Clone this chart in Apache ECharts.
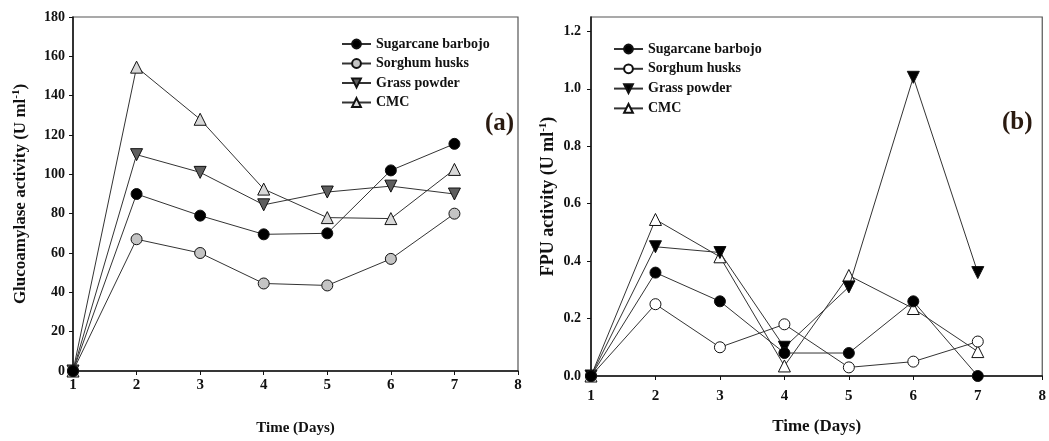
<!DOCTYPE html>
<html>
<head>
<meta charset="utf-8">
<script src="https://cdn.jsdelivr.net/npm/echarts@6/dist/echarts.min.js"></script>
<style>
html,body{margin:0;padding:0;background:#fff;}
#c{width:1049px;height:441px;}
</style>
</head>
<body>
<div id="c"></div>
<script>
var days = [1, 2, 3, 4, 5, 6, 7];
var seriesNames = ['Sugarcane barbojo', 'Sorghum husks', 'Grass powder', 'CMC'];
// Panel (a): Glucoamylase activity (U ml-1)
var gluSugarcane = [0, 90, 79, 69.5, 70, 102, 115.5];
var gluSorghum   = [0, 67, 60, 44.5, 43.5, 57, 80];
var gluGrass     = [0, 110, 101, 84.5, 91, 94, 90];
var gluCMC       = [0, 154.5, 128, 92.5, 78, 77.5, 102.5];
// Panel (b): FPU activity (U ml-1)
var fpuSugarcane = [0, 0.36, 0.26, 0.08, 0.08, 0.26, 0.0];
var fpuSorghum   = [0, 0.25, 0.10, 0.18, 0.03, 0.05, 0.12];
var fpuGrass     = [0, 0.45, 0.43, 0.10, 0.31, 1.04, 0.36];
var fpuCMC       = [0, 0.545, 0.415, 0.035, 0.35, 0.235, 0.085];
var xTicks = [1, 2, 3, 4, 5, 6, 7, 8];

function pairs(vals) { return days.map(function (d, i) { return [d, vals[i]]; }); }

var FONT = '"Liberation Serif", "Times New Roman", serif';
var lineCol = '#333';

function mkSeries(name, vals, gi, symbol, fill, rotate, z) {
  return {
    type: 'line', name: name, xAxisIndex: gi, yAxisIndex: gi,
    data: pairs(vals), symbol: symbol, symbolSize: symbol === 'circle' ? 11 : 12,
    symbolRotate: rotate || 0, showAllSymbol: true,
    lineStyle: { color: lineCol, width: 1 },
    itemStyle: { color: fill, borderColor: '#111', borderWidth: 1 },
    z: z || 2, animation: false
  };
}

var rName = ['Sugarcane barbojo\u200b', 'Sorghum husks\u200b', 'Grass powder\u200b', 'CMC\u200b'];

function xAxis(gi, gap, fs, margin) {
  return {
    gridIndex: gi, type: 'value', min: xTicks[0], max: xTicks[xTicks.length - 1], interval: 1,
    name: 'Time (Days)', nameLocation: 'middle', nameGap: gap,
    nameTextStyle: { fontFamily: FONT, fontWeight: 'bold', fontSize: fs, color: '#111' },
    axisLine: { onZero: false, lineStyle: { color: '#111', width: 1.5 } },
    axisTick: { length: 4, lineStyle: { color: '#111' } },
    axisLabel: { fontFamily: FONT, fontWeight: 'bold', fontSize: 15, color: '#111', margin: margin },
    splitLine: { show: false }
  };
}

function richName(fs) {
  return { rich: {
    t: { fontFamily: FONT, fontWeight: 'bold', fontSize: fs, color: '#111' },
    s: { fontFamily: FONT, fontWeight: 'bold', fontSize: 11, color: '#111', verticalAlign: 'top', padding: [0, 0, 9, 0] }
  } };
}

var option = {
  backgroundColor: '#fff',
  animation: false,
  grid: [
    { left: 73, right: 531, top: 17, bottom: 67, show: true, borderColor: '#555', borderWidth: 1.2 },
    { left: 591, right: 2, top: 17, bottom: 65, show: true, borderColor: '#555', borderWidth: 1.2 }
  ],
  xAxis: [xAxis(0, 50, 15, 7), xAxis(1, 42, 17, 13)],
  yAxis: [
    {
      gridIndex: 0, type: 'value', min: 0, max: 180, interval: 20,
      name: '{t|Glucoamylase activity (U ml}{s|-1}{t|)}', nameLocation: 'middle', nameGap: 42,
      nameTextStyle: richName(17),
      axisLine: { lineStyle: { color: '#111', width: 1.5 } },
      axisTick: { length: 4, lineStyle: { color: '#111' } },
      axisLabel: { fontFamily: FONT, fontWeight: 'bold', fontSize: 14, color: '#111', margin: 8 },
      splitLine: { show: false }
    },
    {
      gridIndex: 1, type: 'value', min: 0, max: 1.25, interval: 0.2,
      name: '{t|FPU activity (U ml}{s|-1}{t|)}', nameLocation: 'middle', nameGap: 33,
      nameTextStyle: richName(18),
      axisLine: { lineStyle: { color: '#111', width: 1.5 } },
      axisTick: { length: 4, lineStyle: { color: '#111' } },
      axisLabel: { fontFamily: FONT, fontWeight: 'bold', fontSize: 14, color: '#111', margin: 10, showMaxLabel: false,
        formatter: function (v) { return v.toFixed(1); } },
      splitLine: { show: false }
    }
  ],
  legend: [
    {
      data: seriesNames, left: 336, top: 32, orient: 'vertical', itemWidth: 29, itemHeight: 11, itemGap: 5.5,
      textStyle: { fontFamily: FONT, fontWeight: 'bold', fontSize: 14, color: '#111' }
    },
    {
      data: rName, left: 608, top: 37, orient: 'vertical', itemWidth: 29, itemHeight: 11, itemGap: 5.8,
      textStyle: { fontFamily: FONT, fontWeight: 'bold', fontSize: 14, color: '#111' }
    }
  ],
  graphic: [
    { type: 'text', left: 485, top: 111, style: { text: '(a)', font: 'bold 25px ' + FONT, fill: '#2a1a10' } },
    { type: 'text', left: 1002, top: 110, style: { text: '(b)', font: 'bold 25px ' + FONT, fill: '#2a1a10' } }
  ],
  series: [
    mkSeries(seriesNames[0], gluSugarcane, 0, 'circle', '#000', 0, 5),
    mkSeries(seriesNames[1], gluSorghum, 0, 'circle', '#c4c4c4', 0, 4),
    mkSeries(seriesNames[2], gluGrass, 0, 'triangle', '#5e5e5e', 180, 3),
    mkSeries(seriesNames[3], gluCMC, 0, 'triangle', '#d8d8d8', 0, 2),
    mkSeries(rName[0], fpuSugarcane, 1, 'circle', '#000', 0, 5),
    mkSeries(rName[1], fpuSorghum, 1, 'circle', '#fff', 0, 4),
    mkSeries(rName[2], fpuGrass, 1, 'triangle', '#000', 180, 3),
    mkSeries(rName[3], fpuCMC, 1, 'triangle', '#fff', 0, 2)
  ]
};

var chart = echarts.init(document.getElementById('c'), null, { renderer: 'canvas' });
chart.setOption(option);
</script>
</body>
</html>
